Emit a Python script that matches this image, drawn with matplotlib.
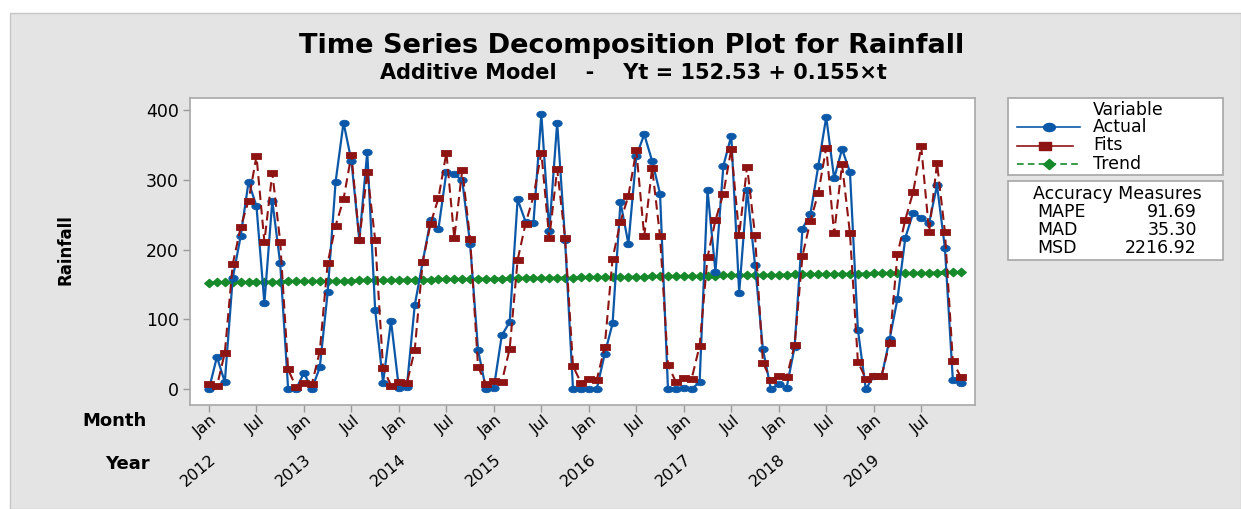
import matplotlib
matplotlib.use('Agg')
import matplotlib.pyplot as plt
import numpy as np
from matplotlib.path import Path
from matplotlib.patches import Rectangle
from matplotlib.lines import Line2D

# ---------------- data ----------------
title = "Time Series Decomposition Plot for Rainfall"
subtitle = "Additive Model    -    Yt = 152.53 + 0.155\u00d7t"
years = ["2012", "2013", "2014", "2015", "2016", "2017", "2018", "2019"]
month_labels = ["Jan", "Jul"]
y_ticks = [0, 100, 200, 300, 400]

actual = [0, 46, 10, 159, 219, 297, 262, 123, 270, 180, 0, 0,
          23, 0, 31, 139, 297, 382, 327, 214, 340, 113, 9, 98,
          1, 3, 120, 182, 242, 230, 311, 308, 299, 208, 56, 0,
          2, 77, 96, 272, 240, 238, 394, 227, 382, 213, 0, 0,
          0, 0, 50, 94, 268, 208, 334, 365, 327, 280, 0, 0,
          1, 0, 10, 285, 168, 320, 363, 138, 285, 178, 57, 0,
          7, 2, 60, 230, 251, 320, 390, 302, 344, 311, 85, 0,
          18, 18, 71, 129, 217, 253, 245, 238, 292, 202, 13, 9]

fits = [7, 4, 52, 179, 232, 270, 334, 211, 310, 211, 28, 3,
        8, 7, 54, 181, 234, 272, 336, 214, 311, 214, 30, 5,
        10, 8, 56, 182, 237, 274, 339, 216, 314, 215, 32, 7,
        12, 10, 58, 185, 237, 276, 339, 216, 315, 216, 33, 9,
        14, 13, 60, 187, 240, 277, 342, 219, 317, 219, 35, 10,
        16, 15, 62, 189, 242, 280, 344, 221, 319, 221, 38, 13,
        19, 17, 63, 191, 241, 281, 346, 223, 322, 223, 39, 15,
        19, 19, 66, 193, 243, 283, 348, 225, 324, 225, 40, 17]

trend = [152.7, 152.8, 153.0, 153.2, 153.3, 153.5, 153.6, 153.8, 153.9, 154.1, 154.2, 154.4,
         154.5, 154.7, 154.9, 155.0, 155.2, 155.3, 155.5, 155.6, 155.8, 155.9, 156.1, 156.2,
         156.4, 156.6, 156.7, 156.9, 157.0, 157.2, 157.3, 157.5, 157.6, 157.8, 157.9, 158.1,
         158.3, 158.4, 158.6, 158.7, 158.9, 159.0, 159.2, 159.3, 159.5, 159.7, 159.8, 160.0,
         160.1, 160.3, 160.4, 160.6, 160.7, 160.9, 161.0, 161.2, 161.4, 161.5, 161.7, 161.8,
         162.0, 162.1, 162.3, 162.4, 162.6, 162.8, 162.9, 163.1, 163.2, 163.4, 163.5, 163.7,
         163.8, 164.0, 164.2, 164.3, 164.5, 164.6, 164.8, 164.9, 165.1, 165.2, 165.4, 165.5,
         165.7, 165.9, 166.0, 166.2, 166.3, 166.5, 166.6, 166.8, 166.9, 167.1, 167.3, 167.4]

accuracy_names = ["MAPE", "MAD", "MSD"]
accuracy_values = ["91.69", "35.30", "2216.92"]
legend_labels = ["Actual", "Fits", "Trend"]

# ---------------- style ----------------
BLUE = "#0B57A8"
RED = "#8E1414"
GREEN = "#168A2A"
BG = "#e4e4e4"
plt.rcParams['font.family'] = ['DejaVu Sans']

W, H = 1241, 509
fig = plt.figure(figsize=(W / 100, H / 100), dpi=100)
fig.patch.set_facecolor('white')


def fx(x):
    return x / W


def fy(y):
    return 1 - y / H


fig.patches.append(Rectangle((fx(10), 0), 1 - fx(10), fy(13), transform=fig.transFigure,
                             facecolor=BG, edgecolor='#c6c6c6', lw=1, zorder=-5))


def poly_marker(pts):
    pts = list(pts) + [pts[0]]
    codes = [Path.MOVETO] + [Path.LINETO] * (len(pts) - 2) + [Path.CLOSEPOLY]
    return Path(pts, codes)


tt = np.linspace(0, 2 * np.pi, 25)[:-1]
m_ell = poly_marker(list(zip(1.45 * np.cos(tt), np.sin(tt))))
m_rect = poly_marker([(-1.6, -1), (1.6, -1), (1.6, 1), (-1.6, 1)])
m_diam = poly_marker([(-1.15, 0), (0, 1), (1.15, 0), (0, -1)])

ax = fig.add_axes([fx(190), fy(405), fx(975) - fx(190), fy(98) - fy(405)])
ax.set_zorder(1)
ax.set_facecolor('white')
x = np.arange(len(actual))

ax.plot(x, trend, color=GREEN, ls=(0, (4, 2.5)), lw=1.5, marker=m_diam, ms=6.8,
        markeredgewidth=1.0, zorder=2)
ax.plot(x, actual, color=BLUE, lw=1.6, marker=m_ell, ms=6.8, markeredgewidth=0.6, zorder=3)
ax.plot(x, fits, color=RED, ls=(0, (4.5, 2.5)), lw=1.5, marker=m_rect, ms=7.2,
        markeredgewidth=0.6, zorder=4)

ax.set_xlim(-2.4, 96.8)
ax.set_ylim(-22.9, 417.2)
ax.set_yticks(y_ticks)
ax.set_yticklabels([str(v) for v in y_ticks], fontsize=12.5)
tick_pos = np.arange(0, len(actual), 6)
ax.set_xticks(tick_pos)
ax.tick_params(axis='x', labelbottom=False, length=5, width=1, color='#9a9a9a', direction='out')
ax.tick_params(axis='y', length=5, width=1, color='#9a9a9a', direction='out', pad=3)
for s in ax.spines.values():
    s.set_color('#a8a8a8')
    s.set_linewidth(1.2)

xtr = ax.get_xaxis_transform()
for k, p in enumerate(tick_pos):
    ax.annotate(month_labels[k % 2], xy=(p, 0), xycoords=xtr, xytext=(1, -5.5),
                textcoords='offset points', rotation=40, ha='right', va='top',
                rotation_mode='anchor', fontsize=11.5, annotation_clip=False)
for k, yr in enumerate(years):
    ax.annotate(yr, xy=(12 * k, 0), xycoords=xtr, xytext=(0, -33.5),
                textcoords='offset points', rotation=40, ha='right', va='top',
                rotation_mode='anchor', fontsize=11.5, annotation_clip=False)

fig.text(fx(115), fy(421), "Month", ha='center', va='center', fontsize=13, fontweight='bold')
fig.text(fx(127), fy(464), "Year", ha='center', va='center', fontsize=13, fontweight='bold')
fig.text(fx(66), fy(250), "Rainfall", ha='center', va='center', rotation=90,
         fontsize=12, fontweight='bold')

fig.text(fx(632), fy(46), title, ha='center', va='center', fontsize=19.5, fontweight='bold')
fig.text(fx(633), fy(73), subtitle, ha='center', va='center', fontsize=15, fontweight='bold')

# legend boxes
for (y0, y1) in [(98, 175), (181, 260)]:
    fig.patches.append(Rectangle((fx(1008), fy(y1)), fx(1223) - fx(1008), fy(y0) - fy(y1),
                                 transform=fig.transFigure, facecolor='white',
                                 edgecolor='#a6a6a6', lw=1.2, zorder=1))

fig.text(fx(1093), fy(110), "Variable", ha='left', va='center', fontsize=12.5)
leg_styles = [(BLUE, '-', m_ell, 6.8), (RED, '-', m_rect, 7.2), (GREEN, (0, (4, 2.5)), m_diam, 6.8)]
for k, (lab, (c, ls, m, ms)) in enumerate(zip(legend_labels, leg_styles)):
    yy = fy(127 + 18.5 * k)
    x0, x1 = (1017, 1080) if k != 1 else (1017, 1073)
    fig.lines.append(Line2D([fx(x0), fx(x1)], [yy, yy], transform=fig.transFigure,
                            color=c, lw=1.2, ls=ls, zorder=2))
    fig.lines.append(Line2D([fx((x0 + x1) / 2)], [yy], transform=fig.transFigure,
                            color=c, marker=m, ms=ms * 1.25, ls='none', zorder=3))
    fig.text(fx(1093), yy, lab, ha='left', va='center', fontsize=12.5)

fig.text(fx(1117), fy(194), "Accuracy Measures", ha='center', va='center', fontsize=12.5)
for k, (nm, val) in enumerate(zip(accuracy_names, accuracy_values)):
    yy = fy(212 + 18 * k)
    fig.text(fx(1037), yy, nm, ha='left', va='center', fontsize=12.5)
    fig.text(fx(1197), yy, val, ha='right', va='center', fontsize=12.5)

fig.savefig("out.png", dpi=100, facecolor=fig.get_facecolor())
